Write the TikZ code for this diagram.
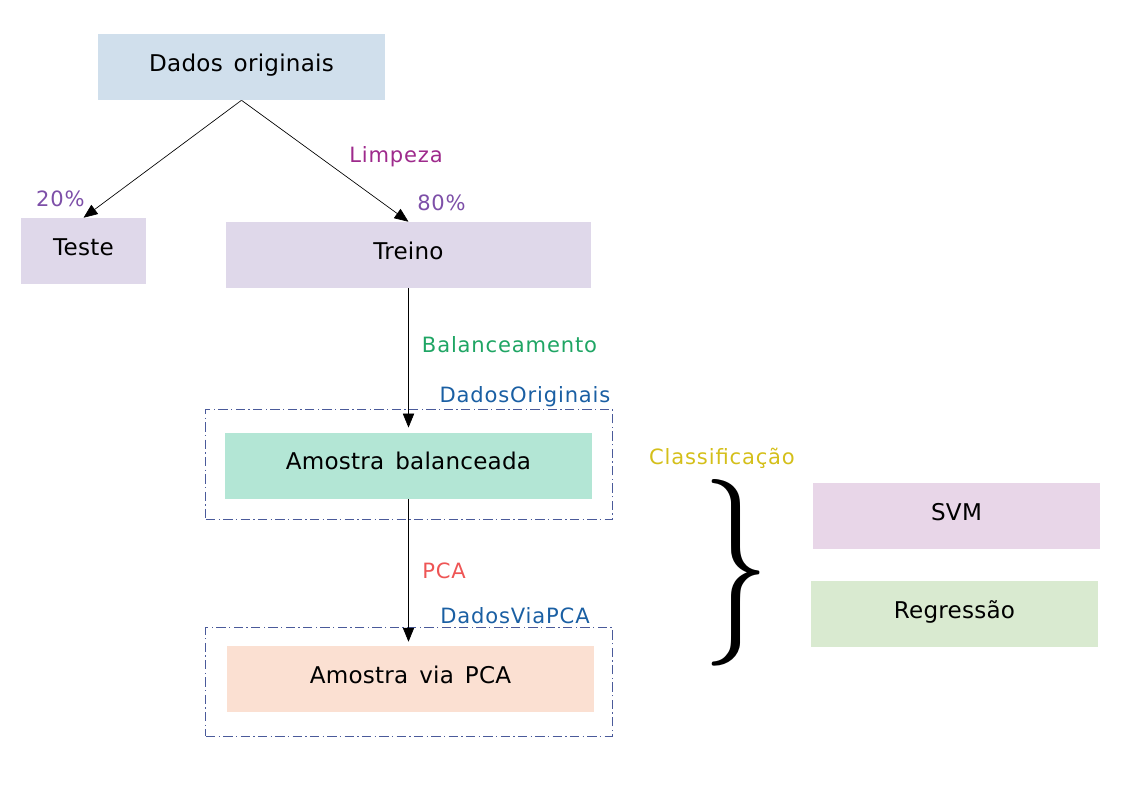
\documentclass[tikz,border=0pt]{standalone}
\usepackage{fontspec}
\usepackage{tikz}
\usetikzlibrary{positioning, arrows.meta, fit, calc}
\newfontfamily\boxfont[LetterSpace=1, WordSpace=1.45]{DejaVu Sans}
\newfontfamily\lblfont[LetterSpace=4, WordSpace=1.6]{DejaVu Sans}
\definecolor{origblue}{HTML}{D0DFEC}
\definecolor{splitlav}{HTML}{DFD8EA}
\definecolor{balgreen}{HTML}{B3E6D5}
\definecolor{pcapeach}{HTML}{FBE0D2}
\definecolor{svmpink}{HTML}{E8D6E8}
\definecolor{reggreen}{HTML}{D9EAD0}
\definecolor{limpcol}{HTML}{9E2A8C}
\definecolor{pctcol}{HTML}{7D4FA8}
\definecolor{balcol}{HTML}{1FA564}
\definecolor{setcol}{HTML}{1A5FA3}
\definecolor{pcacol}{HTML}{EE5555}
\definecolor{clscol}{HTML}{D4BF1A}
\definecolor{grpcol}{HTML}{4A5A9A}

\begin{document}
\begin{tikzpicture}[x=0.75pt, y=-0.75pt,
    box/.style={fill=#1, inner sep=0pt, minimum height=49.5pt,
                text height=0.75em, text depth=0.1em,
                font=\boxfont\fontsize{17.3}{20}\selectfont},
    lbl/.style={text=#1, inner sep=0pt, font=\lblfont\fontsize{15.8}{18}\selectfont},
    flow/.style={-{Triangle[length=10.5pt, width=8.5pt]}, line width=0.5pt},
    group/.style={draw=grpcol, line width=0.7pt, inner sep=0pt,
                  dash pattern=on 7pt off 2.5pt on 1pt off 2.5pt}]
  \useasboundingbox (0,0) rectangle (1123,794);

  % data nodes
  \node[box=origblue, minimum width=215pt] (orig) at (241.5,67) {Dados originais};
  \node[box=splitlav, minimum width=94pt] (teste) at (83.5,251) {Teste};
  \node[box=splitlav, minimum width=274pt] (treino) at (408.5,255) {Treino};
  \node[box=balgreen, minimum width=275pt] (amostra) at (408.5,465.5) {Amostra balanceada};
  \node[box=pcapeach, minimum width=275pt] (viapca) at (410.5,679) {Amostra via PCA};

  % classifiers
  \node[box=svmpink, minimum width=215pt] (svm) at (956.5,516) {SVM};
  \node[box=reggreen, minimum width=215pt] (regr) at (954.5,614) {Regressão};

  % dataset groups
  \node[group, fit={($(amostra.north west)+(-19,-23)$) ($(amostra.south east)+(20,21)$)}] (grporig) {};
  \node[group, fit={($(viapca.north west)+(-21,-18)$) ($(viapca.south east)+(18,24)$)}] (grppca) {};

  % connectors
  \draw[flow] (orig.south) -- (teste.north);
  \draw[flow] (orig.south) -- (treino.north);
  \draw[flow, shorten >=3.5pt] (treino.south) -- (amostra.north);
  \draw[flow, shorten >=3pt] (amostra.south) -- (amostra.south |- viapca.north);

  % labels
  \node[lbl=limpcol] (limp) at (396,157) {Limpeza};
  \node[lbl=pctcol] (pct20) at (60.5,199) {20\%};
  \node[lbl=pctcol] (pct80) at (441.5,203) {80\%};
  \node[lbl=balcol] (bal) at (509.5,345) {Balanceamento};
  \node[lbl=setcol] (lorig) at (525,397) {DadosOriginais};
  \node[lbl=pcacol] (lpca) at (444,571) {PCA};
  \node[lbl=setcol] (lviapca) at (515,616) {DadosViaPCA};
  \node[lbl=clscol] (cls) at (722,458) {Classificação};

  % brace
  \node[inner sep=0pt, xscale=0.72, font=\normalfont\fontsize{140}{140}\selectfont] (brace) at (736,573) {\}};
\end{tikzpicture}
\end{document}
